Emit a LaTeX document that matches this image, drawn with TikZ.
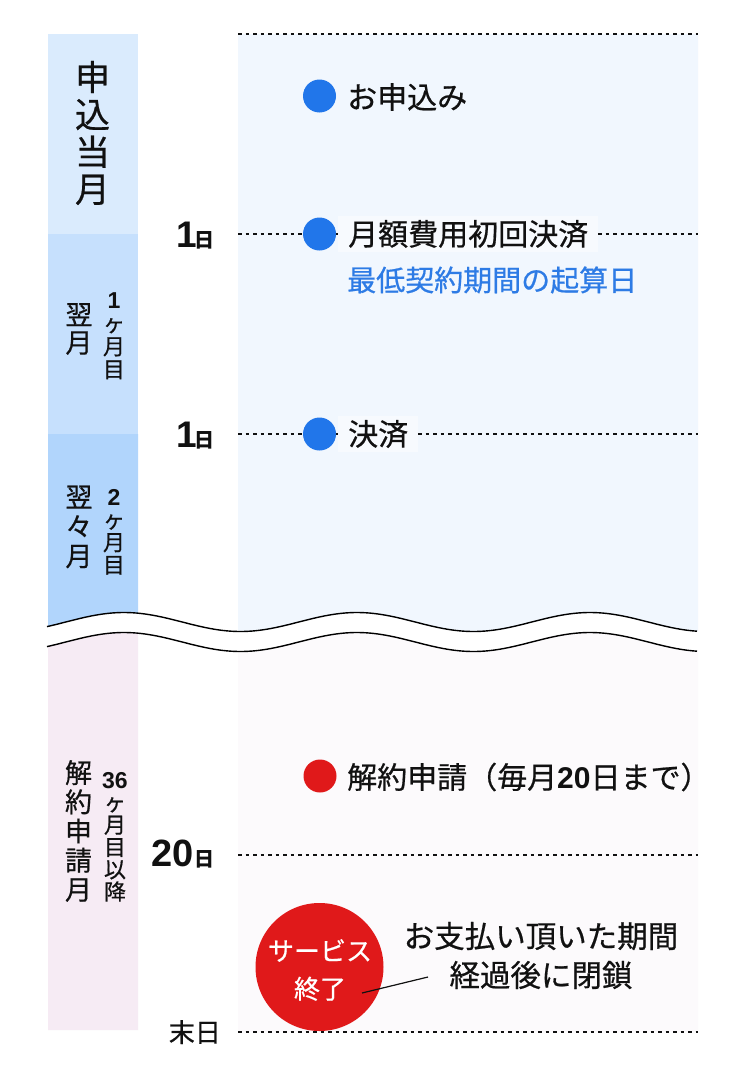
\documentclass[tikz,border=0pt]{standalone}
\usepackage{fontspec}
\setmainfont{Noto Sans CJK JP}[UprightFeatures={FakeBold=0.6}]
\newfontfamily\numf{Liberation Sans}
\definecolor{cA}{HTML}{DAEBFD}
\definecolor{cB}{HTML}{C6E0FD}
\definecolor{cC}{HTML}{B1D5FC}
\definecolor{cD}{HTML}{F6EBF4}
\definecolor{pTop}{HTML}{F1F7FE}
\definecolor{pBot}{HTML}{FCFAFC}
\definecolor{boxc}{HTML}{F7FAFE}
\definecolor{dotblue}{HTML}{2176EA}
\definecolor{txtblue}{HTML}{2D7BE5}
\definecolor{dotred}{HTML}{E0191A}
\definecolor{ink}{HTML}{111111}
\begin{document}
\begin{tikzpicture}[x=1pt,y=-1pt,
  declare function={wv(\t)=622-9.5*cos(1.54506*(\t-124));},
  dotline/.style={draw=ink, line width=1.3pt, dash pattern=on 3.5pt off 4pt},
  waveline/.style={draw=black, line width=1.4pt},
  vstack/.style={align=center, inner sep=0pt, text=ink},
  lbl/.style={anchor=west, inner sep=0pt, text=ink, font=\fontsize{30}{36}\selectfont},
  bdot/.style={circle, fill=dotblue, minimum size=33pt, inner sep=0pt},
  rdot/.style={circle, fill=dotred, minimum size=33pt, inner sep=0pt},
  datelbl/.style={anchor=base east, inner sep=0pt, text=ink},
  callout/.style={draw=ink, line width=1.2pt}
]
\useasboundingbox (0,0) rectangle (750,1084);
\fill[white] (0,0) rectangle (750,1084);
% left column
\fill[cA] (48,34) rectangle (138,234);
\fill[cB] (48,234) rectangle (138,434);
\fill[cC] (48,434) -- (138,434) -- plot[domain=138:48,samples=30] (\x,{wv(\x)}) -- cycle;
\fill[cD] plot[domain=48:138,samples=30] (\x,{wv(\x)+20}) -- (138,1030) -- (48,1030) -- cycle;
% right panel
\fill[pTop] (238,34) -- (698,34) -- plot[domain=698:238,samples=90] (\x,{wv(\x)}) -- cycle;
\fill[pBot] plot[domain=238:698,samples=90] (\x,{wv(\x)+20}) -- (698,1032) -- (238,1032) -- cycle;
% wave
\draw[waveline] plot[domain=47:697,samples=160] (\x,{wv(\x)});
\draw[waveline] plot[domain=47:697,samples=160] (\x,{wv(\x)+20});
% dotted lines
\coordinate (l0a) at (238,34);   \coordinate (l0b) at (698,34);
\coordinate (l1a) at (238,234);  \coordinate (l1b) at (698,234);
\coordinate (l2a) at (238,434);  \coordinate (l2b) at (698,434);
\coordinate (l3a) at (238,855);  \coordinate (l3b) at (698,855);
\coordinate (l4a) at (238,1032); \coordinate (l4b) at (698,1032);
\draw[dotline] (l0a) -- (l0b);
\draw[dotline] (l1a) -- (l1b);
\draw[dotline] (l2a) -- (l2b);
\draw[dotline] (l3a) -- (l3b);
\draw[dotline] (l4a) -- (l4b);
% left column labels
\node[vstack, font=\fontsize{35}{37.3}\selectfont] (m0) at (92.5,133) {申\\込\\当\\月};
\node[vstack, font=\fontsize{27}{28}\selectfont] (m1) at (79,329) {翌\\月};
\node[vstack, font=\fontsize{22}{23}\selectfont] (m1s) at (114,336) {{\numf\bfseries\fontsize{23}{23}\selectfont 1}\\ヶ\\月\\目};
\node[vstack, font=\fontsize{27}{29.5}\selectfont] (m2) at (79,527) {翌\\々\\月};
\node[vstack, font=\fontsize{22}{22.6}\selectfont] (m2s) at (114,532) {{\numf\bfseries\fontsize{23}{23}\selectfont 2}\\ヶ\\月\\目};
\node[vstack, font=\fontsize{27}{29.2}\selectfont] (m3) at (78.5,831) {解\\約\\申\\請\\月};
\node[vstack, font=\fontsize{22}{22.3}\selectfont] (m3s) at (115,837) {{\numf\bfseries\fontsize{23}{23}\selectfont 36}\\ヶ\\月\\目\\以\\降};
% date labels
\node[datelbl] (dl1) at (215,247) {{\numf\bfseries\fontsize{37}{37}\selectfont 1}\kern-2pt{\bfseries\fontsize{20}{20}\selectfont 日}};
\node[datelbl] (dl2) at (215,447) {{\numf\bfseries\fontsize{37}{37}\selectfont 1}\kern-2pt{\bfseries\fontsize{20}{20}\selectfont 日}};
\node[datelbl] (dl3) at (215,866) {{\numf\bfseries\fontsize{38}{38}\selectfont 20}\kern1pt{\bfseries\fontsize{20}{20}\selectfont 日}};
\node[datelbl, font=\fontsize{26}{26}\selectfont] (dl4) at (221,1042) {末日};
% events
\node[bdot] (d1) at (319.5,96) {};
\node[lbl] (t1) at (347,97) {お申込み};
\node[bdot] (d2) at (319.5,234) {};
\node[lbl, fill=boxc, inner xsep=10pt, inner ysep=4pt] (t2) at (338,234) {月額費用初回決済};
\node[lbl, text=txtblue, font=\fontsize{29}{36}\selectfont] (t2b) at (347,280) {最低契約期間の起算日};
\node[bdot] (d3) at (319.5,434) {};
\node[lbl, fill=boxc, inner xsep=10pt, inner ysep=4pt] (t3) at (338,434) {決済};
\node[rdot] (d4) at (320,776) {};
\node[lbl] (t4) at (347,777) {解約申請（毎月{\numf\bfseries 20}日まで）};
% service end
\node[circle, fill=dotred, minimum size=128pt, inner sep=0pt] (svc) at (319.5,967) {};
\node[align=center, inner sep=0pt, text=white, font=\fontsize{26}{38}\selectfont] (svct) at (320,970) {サービス\\終了};
\node[align=center, inner sep=0pt, text=ink, font=\fontsize{30.5}{39}\selectfont] (ctxt) at (541,955.5) {お支払い頂いた期間\\経過後に閉鎖};
\coordinate (ca) at (362,993);
\coordinate (cb) at (428,977);
\draw[callout] (ca) -- (cb);
\end{tikzpicture}
\end{document}
